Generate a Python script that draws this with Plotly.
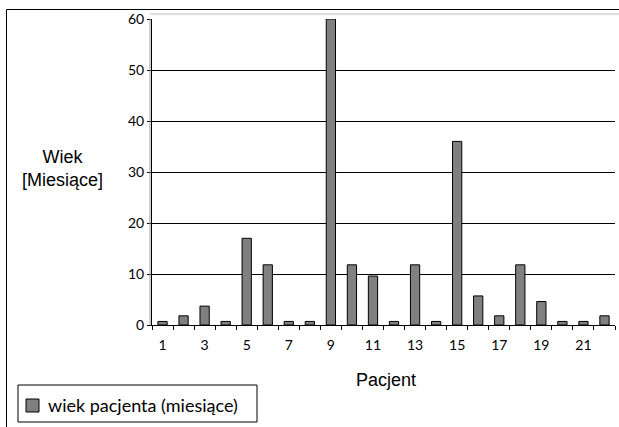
import plotly.graph_objects as go

patients = list(range(1, 23))
age_months = [0.7, 1.8, 3.7, 0.7, 17, 11.8, 0.7, 0.7, 60, 11.8, 9.6, 0.7,
              11.8, 0.7, 36, 5.7, 1.8, 11.8, 4.6, 0.7, 0.7, 1.8]
x_tick_labels = [1, 3, 5, 7, 9, 11, 13, 15, 17, 19, 21]
y_ticks = [0, 10, 20, 30, 40, 50, 60]
series_name = "wiek pacjenta (miesiące)"

W, H = 619, 427
L, R, T, B = 152, 4, 19, 102
pw, ph = W - L - R, H - T - B

def px(x):
    return (x - L) / pw

def py(y):
    return (H - B - y) / ph

BAR_COLOR = "#808080"

fig = go.Figure()
fig.add_trace(go.Bar(
    x=patients, y=age_months, name=series_name,
    marker=dict(color=BAR_COLOR, line=dict(color="#000000", width=1)),
    width=0.44, showlegend=False,
))

fig.update_layout(
    width=W, height=H,
    margin=dict(l=L, r=R, t=T, b=B),
    paper_bgcolor="white", plot_bgcolor="white",
    font=dict(family="Lato, Open Sans, sans-serif", size=14, color="black"),
    xaxis=dict(
        range=[0.5, 22.5], tickmode="array", tickvals=x_tick_labels,
        ticktext=[str(v) for v in x_tick_labels],
        ticks="outside", ticklen=4, tickcolor="rgba(0,0,0,0)",
        ticklabelstandoff=3,
        minor=dict(ticks="outside", tickmode="array",
                   tickvals=[i + 0.5 for i in range(0, 23)],
                   ticklen=4, tickcolor="black", tickwidth=1),
        showline=True, linecolor="black", linewidth=1,
        showgrid=False, zeroline=False,
        tickfont=dict(size=14),
    ),
    yaxis=dict(
        range=[0, 60], tickmode="array", tickvals=y_ticks,
        ticks="outside", ticklen=4, tickcolor="black",
        showline=True, linecolor="black", linewidth=1,
        showgrid=True, gridcolor="black", gridwidth=1,
        zeroline=False, tickfont=dict(size=14),
    ),
    showlegend=False,
)

# Chart frame
fig.add_shape(type="rect", xref="paper", yref="paper",
              x0=px(6.5), x1=px(640), y0=py(445), y1=py(9.5),
              line=dict(color="black", width=1), layer="below")
# light 3D wall edge lines
fig.add_shape(type="line", xref="paper", yref="paper",
              x0=px(150), x1=px(150), y0=py(325), y1=py(19),
              line=dict(color="#999999", width=1))
fig.add_shape(type="line", xref="paper", yref="paper",
              x0=px(150), x1=px(640), y0=py(14), y1=py(14),
              line=dict(color="#bbbbbb", width=1))

# Legend drawn by hand
fig.add_shape(type="rect", xref="paper", yref="paper",
              x0=px(18), x1=px(257), y0=py(422), y1=py(385),
              line=dict(color="black", width=1), fillcolor="white")
fig.add_shape(type="rect", xref="paper", yref="paper",
              x0=px(26), x1=px(39), y0=py(412), y1=py(399),
              line=dict(color="black", width=1), fillcolor=BAR_COLOR)
fig.add_annotation(
    text=series_name, xref="paper", yref="paper",
    x=px(46), y=py(405), xanchor="left", yanchor="middle",
    showarrow=False,
    font=dict(family="Lato, Open Sans, sans-serif", size=18),
)

fig.add_annotation(
    text="Wiek<br>[Miesiące]", xref="paper", yref="paper",
    x=px(62), y=py(168), xanchor="center", yanchor="middle", align="center",
    showarrow=False,
    font=dict(family="Liberation Sans, Arial, sans-serif", size=18),
)
fig.add_annotation(
    text="Pacjent", xref="paper", yref="paper",
    x=px(386), y=py(380), xanchor="center", yanchor="middle",
    showarrow=False,
    font=dict(family="Liberation Sans, Arial, sans-serif", size=18),
)

fig.write_html("out.html")
